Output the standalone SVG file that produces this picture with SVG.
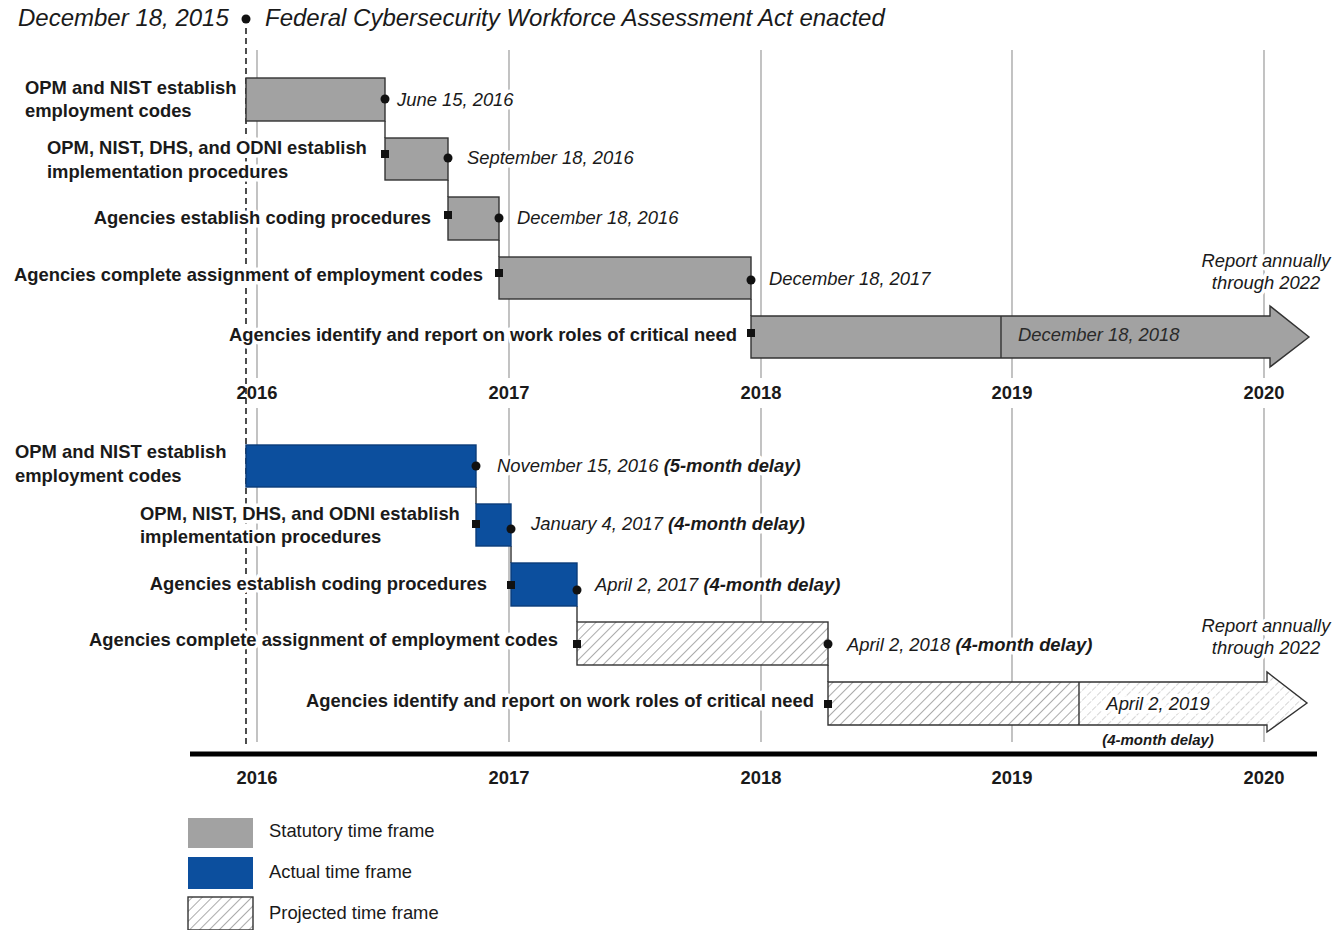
<svg xmlns="http://www.w3.org/2000/svg" width="1340" height="930" viewBox="0 0 1340 930">
<style>
text{font-family:"Liberation Sans",Arial,sans-serif;font-size:18.4px;fill:#1a1a1a}
.lbl{font-weight:bold}
.end{text-anchor:end}
.mid{text-anchor:middle}
.it{font-style:italic}
.bi{font-style:italic;font-weight:bold}
.halo{stroke:#fff;stroke-width:7;stroke-linejoin:round;paint-order:stroke}
.yr{font-weight:bold;text-anchor:middle}
.grid{stroke:#9a9a9a;stroke-width:1.2;fill:none}
.dash{stroke:#222;stroke-width:1.6;stroke-dasharray:6,4;fill:none}
.stat{fill:#a2a2a2;stroke:#333;stroke-width:1.4}
.act{fill:#0c4f9e;stroke:#0a3c7a;stroke-width:1.4}
.proj{fill:url(#hatch);stroke:#333;stroke-width:1.4}
.conn{stroke:#333;stroke-width:1.4;fill:none}
.dot{fill:#111}
</style>
<defs>
<pattern id="hatch" patternUnits="userSpaceOnUse" width="7" height="7" patternTransform="rotate(45)">
<rect width="7" height="7" fill="#fff"/>
<line x1="0" y1="0" x2="0" y2="7" stroke="#666" stroke-width="1.1"/>
</pattern>
<pattern id="hatchLight" patternUnits="userSpaceOnUse" width="7" height="7" patternTransform="rotate(45)">
<rect width="7" height="7" fill="#fff"/>
<line x1="0" y1="0" x2="0" y2="7" stroke="#aaa" stroke-width="1" stroke-dasharray="3,1.5"/>
</pattern>
</defs>
<rect width="1340" height="930" fill="#fff"/>

<g id="grid">
<line class="grid" x1="257" y1="50" x2="257" y2="378"/>
<line class="grid" x1="509" y1="50" x2="509" y2="378"/>
<line class="grid" x1="761" y1="50" x2="761" y2="378"/>
<line class="grid" x1="1012" y1="50" x2="1012" y2="378"/>
<line class="grid" x1="1264" y1="50" x2="1264" y2="378"/>
<line class="grid" x1="257" y1="408" x2="257" y2="742"/>
<line class="grid" x1="509" y1="408" x2="509" y2="742"/>
<line class="grid" x1="761" y1="408" x2="761" y2="742"/>
<line class="grid" x1="1012" y1="408" x2="1012" y2="742"/>
<line class="grid" x1="1264" y1="408" x2="1264" y2="742"/>
<line class="dash" x1="246" y1="28" x2="246" y2="745"/>
</g>

<g id="title">
<text class="it" x="18" y="26" style="font-size:24px">December 18, 2015</text>
<circle class="dot" cx="246" cy="19" r="4.5"/>
<text class="it" x="265" y="26" style="font-size:24px">Federal Cybersecurity Workforce Assessment Act enacted</text>
</g>

<g id="connectors">
<line class="conn" x1="385" y1="121" x2="385" y2="138"/>
<line class="conn" x1="448" y1="180" x2="448" y2="197"/>
<line class="conn" x1="499" y1="240" x2="499" y2="257"/>
<line class="conn" x1="751" y1="299" x2="751" y2="316"/>
<line class="conn" x1="476" y1="487" x2="476" y2="504"/>
<line class="conn" x1="511" y1="546" x2="511" y2="563"/>
<line class="conn" x1="577" y1="606" x2="577" y2="622"/>
<line class="conn" x1="828" y1="665" x2="828" y2="682"/>
</g>

<!-- Statutory -->
<g id="s1">
<rect class="stat" x="246" y="78" width="139" height="43"/>
<circle class="dot" cx="385" cy="99" r="4.5"/>
<text class="lbl halo" x="25" y="94">OPM and NIST establish</text>
<text class="lbl halo" x="25" y="117">employment codes</text>
<text class="it halo" x="397" y="106">June 15, 2016</text>
</g>
<g id="s2">
<rect class="stat" x="385" y="138" width="63" height="42"/>
<rect class="dot" x="381" y="150" width="8" height="8"/>
<circle class="dot" cx="448" cy="158" r="4.5"/>
<text class="lbl halo" x="47" y="154">OPM, NIST, DHS, and ODNI establish</text>
<text class="lbl halo" x="47" y="178">implementation procedures</text>
<text class="it halo" x="467" y="164">September 18, 2016</text>
</g>
<g id="s3">
<rect class="stat" x="448" y="197" width="51" height="43"/>
<rect class="dot" x="444" y="211" width="8" height="8"/>
<circle class="dot" cx="499" cy="218" r="4.5"/>
<text class="lbl end halo" x="431" y="224">Agencies establish coding procedures</text>
<text class="it halo" x="517" y="224">December 18, 2016</text>
</g>
<g id="s4">
<rect class="stat" x="499" y="257" width="252" height="42"/>
<rect class="dot" x="495" y="269" width="8" height="8"/>
<circle class="dot" cx="751" cy="280" r="4.5"/>
<text class="lbl end halo" x="483" y="281">Agencies complete assignment of employment codes</text>
<text class="it halo" x="769" y="285">December 18, 2017</text>
</g>
<g id="s5">
<polygon class="stat" points="751,316 1270,316 1270,306 1309,337 1270,367 1270,358 751,358"/>
<line class="conn" x1="1001" y1="316" x2="1001" y2="358"/>
<rect class="dot" x="747" y="329" width="8" height="8"/>
<text class="lbl end halo" x="737" y="341">Agencies identify and report on work roles of critical need</text>
<text class="it" x="1018" y="341" style="fill:#2a2a2a">December 18, 2018</text>
<text class="it mid halo" x="1266" y="267">Report annually</text>
<text class="it mid halo" x="1266" y="289">through 2022</text>
</g>

<g id="years-top">
<text class="yr" x="257" y="399">2016</text>
<text class="yr" x="509" y="399">2017</text>
<text class="yr" x="761" y="399">2018</text>
<text class="yr" x="1012" y="399">2019</text>
<text class="yr" x="1264" y="399">2020</text>
</g>

<!-- Actual / projected -->
<g id="a1">
<rect class="act" x="246" y="445" width="230" height="42"/>
<circle class="dot" cx="476" cy="466" r="4.5"/>
<text class="lbl halo" x="15" y="458">OPM and NIST establish</text>
<text class="lbl halo" x="15" y="482">employment codes</text>
<text class="it halo" x="497" y="472">November 15, 2016 <tspan class="bi">(5-month delay)</tspan></text>
</g>
<g id="a2">
<rect class="act" x="476" y="504" width="35" height="42"/>
<rect class="dot" x="472" y="520" width="8" height="8"/>
<circle class="dot" cx="511" cy="529" r="4.5"/>
<text class="lbl halo" x="140" y="520">OPM, NIST, DHS, and ODNI establish</text>
<text class="lbl halo" x="140" y="543">implementation procedures</text>
<text class="it halo" x="531" y="530">January 4, 2017 <tspan class="bi">(4-month delay)</tspan></text>
</g>
<g id="a3">
<rect class="act" x="511" y="563" width="66" height="43"/>
<rect class="dot" x="507" y="581" width="8" height="8"/>
<circle class="dot" cx="577" cy="590" r="4.5"/>
<text class="lbl end halo" x="487" y="590">Agencies establish coding procedures</text>
<text class="it halo" x="595" y="591">April 2, 2017 <tspan class="bi">(4-month delay)</tspan></text>
</g>
<g id="p4">
<rect class="proj" x="577" y="622" width="251" height="43"/>
<rect class="dot" x="573" y="640" width="8" height="8"/>
<circle class="dot" cx="828" cy="644" r="4.5"/>
<text class="lbl end halo" x="558" y="646">Agencies complete assignment of employment codes</text>
<text class="it halo" x="847" y="651">April 2, 2018 <tspan class="bi">(4-month delay)</tspan></text>
</g>
<g id="p5">
<polygon points="828,682 1267,682 1267,672 1307,703 1267,732 1267,725 828,725" fill="url(#hatchLight)"/>
<rect x="828" y="682" width="251" height="43" fill="url(#hatch)"/>
<polygon points="828,682 1267,682 1267,672 1307,703 1267,732 1267,725 828,725" fill="none" stroke="#333" stroke-width="1.4"/>
<line class="conn" x1="1079" y1="682" x2="1079" y2="725"/>
<rect class="dot" x="824" y="700" width="8" height="8"/>
<text class="lbl end halo" x="814" y="707">Agencies identify and report on work roles of critical need</text>
<text class="it mid halo" x="1158" y="710">April 2, 2019</text>
<text class="bi mid halo" x="1158" y="745" style="font-size:15px">(4-month delay)</text>
<text class="it mid halo" x="1266" y="632">Report annually</text>
<text class="it mid halo" x="1266" y="654">through 2022</text>
</g>

<g id="axis">
<line x1="190" y1="754" x2="1317" y2="754" stroke="#000" stroke-width="5"/>
<text class="yr" x="257" y="784">2016</text>
<text class="yr" x="509" y="784">2017</text>
<text class="yr" x="761" y="784">2018</text>
<text class="yr" x="1012" y="784">2019</text>
<text class="yr" x="1264" y="784">2020</text>
</g>

<g id="legend">
<rect x="188" y="818" width="65" height="30" fill="#a2a2a2"/>
<text x="269" y="837">Statutory time frame</text>
<rect x="188" y="857" width="65" height="32" fill="#0c4f9e"/>
<text x="269" y="878">Actual time frame</text>
<rect x="188" y="897" width="65" height="33" fill="url(#hatch)" stroke="#333" stroke-width="1.4"/>
<text x="269" y="919">Projected time frame</text>
</g>
</svg>
